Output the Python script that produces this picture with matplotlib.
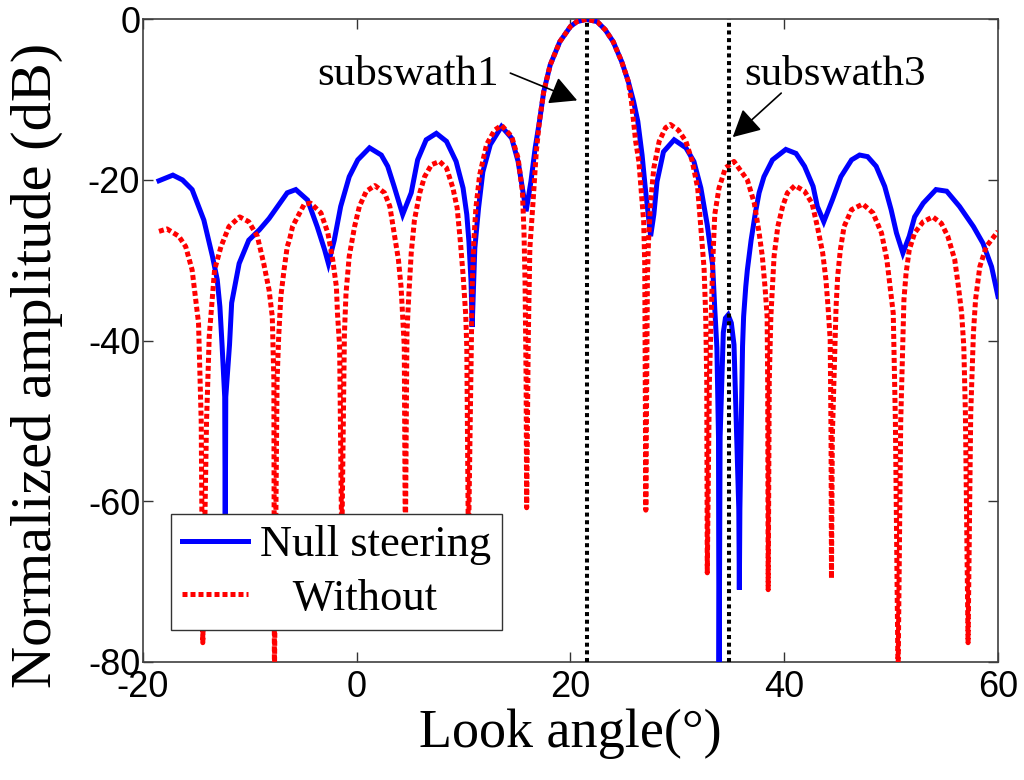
import matplotlib
matplotlib.use('Agg')
import matplotlib.pyplot as plt
from matplotlib import font_manager
from matplotlib.font_manager import FontProperties

# ---------------- data ----------------
null_x = [-18.5, -17.2, -16.3, -15.4, -14.3, -13.5, -13.05, -12.8, -12.6, -12.35, -12.3, -12.25,
          -11.9, -11.7, -11.0, -10.1, -9.1, -8.2, -6.5, -5.7, -4.6, -3.7, -3.0, -2.65, -2.1,
          -1.5, -0.7, 0.1, 1.2, 2.3, 2.9, 3.5, 4.3, 5.1, 5.7, 6.5, 7.45, 8.4, 9.3, 9.95, 10.3,
          10.5, 10.7, 10.8, 11.05, 11.4, 11.8, 12.5, 13.55, 14.5, 15.1, 15.5, 15.85, 16.3, 16.7,
          17.1, 17.5, 18.1, 19.0, 20.0, 20.6, 21.5, 22.5, 23.25, 24.0, 24.8, 25.4, 25.9, 26.3,
          26.7, 27.0, 27.5, 27.8, 28.1, 28.7, 29.7, 30.8, 31.55, 32.2, 32.8, 33.3, 33.5, 33.7,
          33.85, 33.9, 34.0, 34.3, 34.5, 34.75, 35.05, 35.3, 35.75, 35.8, 35.85, 36.1, 36.2,
          36.4, 36.55, 36.9, 37.3, 37.65, 38.1, 38.9, 40.15, 41.1, 41.9, 42.7, 43.1, 43.7, 44.5,
          45.3, 46.3, 47.05, 47.8, 48.6, 49.4, 50.0, 50.5, 51.1, 51.7, 52.2, 53.0, 54.2, 55.2,
          56.4, 57.7, 58.6, 59.4, 60.0]
null_db = [-20.1, -19.4, -20.0, -21.2, -25.0, -29.5, -32.4, -35.8, -40.5, -47.0, -64.0, -47.0,
           -40.5, -35.3, -30.4, -27.5, -26.2, -24.8, -21.6, -21.2, -22.5, -25.8, -28.7, -30.4, -27.5,
           -23.3, -19.6, -17.5, -16.0, -16.9, -18.3, -20.8, -24.3, -21.6, -17.5, -15.0, -14.2, -15.2,
           -17.7, -21.0, -24.3, -27.7, -32.7, -38.3, -28.5, -23.5, -19.0, -15.6, -13.35, -14.8, -17.7,
           -21.0, -23.9, -20.2, -16.0, -12.7, -9.0, -5.7, -2.8, -0.9, -0.3, 0.0, -0.3, -1.3, -2.8,
           -5.3, -7.7, -10.2, -12.7, -16.9, -21.0, -27.0, -24.3, -20.2, -16.5, -15.0, -16.0, -17.7,
           -21.0, -25.6, -30.6, -36.0, -40.9, -52.0, -85.0, -52.0, -39.0, -37.2, -36.8, -37.8, -40.5,
           -61.0, -71.0, -61.0, -40.7, -37.0, -33.3, -31.2, -27.5, -24.1, -21.6, -19.6, -17.5, -16.2,
           -16.7, -18.3, -20.8, -23.3, -25.2, -22.5, -19.6, -17.5, -16.9, -17.1, -18.3, -20.8, -23.7,
           -26.6, -29.1, -27.0, -24.6, -22.9, -21.2, -21.4, -23.3, -25.8, -27.9, -30.8, -34.5]

without_x = [-18.5, -17.75, -16.65, -16.0, -15.4, -15.1, -14.8, -14.55, -14.4, -14.05, -13.8, -13.5,
             -13.3, -12.7, -11.95, -10.95, -10.1, -9.3, -8.7, -8.2, -7.9, -7.75, -7.7, -7.45, -7.3,
             -7.1, -6.8, -6.5, -6.3, -6.0, -5.85, -4.9, -4.3, -3.35, -2.7, -2.25, -1.9, -1.8, -1.6,
             -1.4, -1.15, -1.0, -0.7, -0.2, 0.25, 0.9, 1.7, 2.6, 3.1, 3.5, 3.9, 4.15, 4.3, 4.45,
             4.55, 4.7, 4.85, 5.1, 5.4, 5.9, 6.35, 7.0, 7.75, 8.4, 9.0, 9.4, 9.7, 9.95, 10.2, 10.3,
             10.45, 10.8, 10.95, 11.15, 11.5, 12.15, 12.9, 13.55, 14.5, 15.1, 15.5, 15.65, 15.75,
             15.85, 15.9, 16.05, 16.2, 16.5, 16.8, 17.1, 17.5, 18.1, 19.0, 20.0, 20.6, 21.5, 22.5,
             23.25, 24.0, 24.8, 25.4, 25.7, 26.1, 26.4, 26.6, 26.85, 26.95, 27.05, 27.2, 27.3, 27.5,
             27.8, 28.3, 28.9, 29.35, 30.1, 30.8, 31.4, 31.9, 32.2, 32.5, 32.65, 32.75, 32.8, 33.0,
             33.3, 33.5, 33.9, 34.5, 35.3, 36.55, 37.2, 37.65, 37.95, 38.2, 38.4, 38.45, 38.5,
             38.6, 38.75, 38.9, 39.05, 39.4, 39.85, 40.3, 41.0, 41.9, 42.6, 43.1, 43.6, 43.9, 44.1,
             44.3, 44.38, 44.42, 44.5, 44.85, 45.0, 45.25, 45.6, 46.3, 47.35, 48.3, 49.1, 49.6,
             49.9, 50.2, 50.4, 50.65, 50.9, 51.2, 51.4, 51.7, 52.2, 53.0, 53.9, 54.7, 55.3, 55.95,
             56.3, 56.6, 56.8, 56.95, 57.2, 57.45, 57.7, 57.9, 58.3, 58.9, 60.0]
without_db = [-26.4, -26.1, -27.0, -28.3, -31.2, -34.5, -37.8, -50.0, -77.6, -50.0, -39.5, -34.5,
              -31.2, -28.3, -25.8, -24.6, -25.2, -27.0, -30.4, -33.7, -37.0, -45.0, -82.0, -45.0, -39.5,
              -34.5, -31.2, -28.3, -27.5, -25.8, -25.4, -23.0, -22.9, -24.1, -26.6, -29.9, -33.3, -36.6, -40.7,
              -66.0, -39.1, -34.1, -29.5, -25.8, -23.3, -21.4, -20.7, -21.6, -23.3, -26.6, -29.9, -33.3, -37.0,
              -40.7, -66.0, -39.1, -34.9, -29.1, -25.0, -21.6, -19.6, -18.1, -17.7, -18.5, -21.0, -23.5,
              -27.7, -31.8, -36.8, -40.9, -66.0, -33.5, -27.7, -23.5, -19.4, -15.6, -13.8, -13.2, -14.6,
              -17.3, -21.4, -26.4, -32.7, -45.0, -60.8, -40.0, -28.5, -22.7, -16.5, -12.7, -9.0, -5.7, -2.8,
              -0.9, -0.3, 0.0, -0.3, -1.3, -2.8, -5.3, -7.7, -10.2, -15.2, -17.7, -21.0, -25.2, -30.6,
              -61.1, -32.0, -27.7, -22.7, -18.5, -15.2, -13.5, -13.1, -13.8, -15.2, -17.7, -21.0, -26.0,
              -31.0, -36.8, -45.0, -68.9, -45.0, -30.6, -24.3, -21.0, -18.5, -17.7, -20.0, -22.9, -26.6,
              -29.5, -33.3, -37.0, -45.0, -71.0, -45.0, -37.0, -33.3, -29.5, -25.8, -23.3, -21.6, -20.7,
              -21.4, -22.9, -25.8, -29.1, -32.4, -35.8, -39.9, -52.0, -69.6, -52.0, -35.8, -32.0, -28.7,
              -25.8, -23.7, -23.0, -24.1, -26.6, -29.9, -33.3, -36.6, -50.0, -82.0, -50.0, -34.9, -31.6,
              -28.7, -26.6, -25.2, -24.6, -25.4, -27.0, -29.9, -33.3, -36.6, -40.7, -49.0, -77.6, -49.0,
              -39.1, -34.9, -30.8, -28.3, -26.4]

subswath_x = [21.5, 34.8]
subswath_labels = ['subswath1', 'subswath3']
label_pos = [(-3.66, -8.15), (36.25, -8.15)]
arrow_tail = [(14.37, -6.7), (39.72, -9.19)]
arrow_tip = [(20.63, -10.1), (35.18, -14.67)]

series_labels = ['Null steering', '   Without']
xticks = [-20, 0, 20, 40, 60]
yticks = [-80, -60, -40, -20, 0]

# ---------------- fonts ----------------
def has_font(name):
    try:
        font_manager.findfont(FontProperties(family=name), fallback_to_default=False)
        return True
    except Exception:
        return False

if has_font('Liberation Sans Narrow'):
    tick_family, tick_size = 'Liberation Sans Narrow', 32
else:
    tick_family, tick_size = 'Liberation Sans', 26
serif = ['Liberation Serif', 'DejaVu Serif']

plt.rcParams['font.family'] = [tick_family, 'DejaVu Sans']
plt.rcParams['axes.unicode_minus'] = False

# ---------------- figure ----------------
fig = plt.figure(figsize=(10.24, 7.8), dpi=100)
ax = fig.add_axes([0.1396, 0.1513, 0.835, 0.824])

l1, = ax.plot(null_x, null_db, color='#0000ff', lw=3.6, solid_joinstyle='miter',
              label=series_labels[0], zorder=3)
l2, = ax.plot(without_x, without_db, color='#ff0000', lw=3.6, linestyle=(0, (1.0, 0.6)),
              dash_capstyle='butt', label=series_labels[1], zorder=4)
ax.vlines(subswath_x, -80, 0, colors='black', lw=2.9, linestyles=[(0, (1.0, 0.9))], zorder=5)

for txt, pos, tail, tip in zip(subswath_labels, label_pos, arrow_tail, arrow_tip):
    ax.text(pos[0], pos[1], txt, fontsize=31, family=serif, ha='left', va='baseline', zorder=6)
    ax.annotate('', xy=tip, xytext=tail,
                arrowprops=dict(arrowstyle='-|>,head_length=0.42,head_width=0.22',
                                mutation_scale=40, color='black', lw=1.2,
                                shrinkA=0, shrinkB=0), zorder=6)

ax.set_xlim(-20, 60)
ax.set_ylim(-80, 0)
ax.set_xticks(xticks)
ax.set_yticks(yticks)
ax.tick_params(direction='in', length=7, width=1.0, top=True, right=True,
               labelsize=tick_size, colors='#333333', labelcolor='black')
ax.tick_params(axis='x', pad=6)
ax.tick_params(axis='y', pad=2)
for sp in ax.spines.values():
    sp.set_color('#404040')
    sp.set_linewidth(1.2)

ax.set_xlabel('Look angle(°)', fontsize=39, family=serif, labelpad=2)
ax.set_ylabel('Normalized amplitude (dB)', fontsize=42, family=serif)
ax.yaxis.set_label_coords(-0.0936, 0.462)

leg = ax.legend(handles=[l1, l2], loc='lower left', bbox_to_anchor=(0.0324, 0.0498),
                borderaxespad=0, prop=FontProperties(family=serif, size=32),
                handlelength=1.5, handletextpad=0.26, labelspacing=0.3, borderpad=0.25,
                frameon=True, fancybox=False, framealpha=1)
leg.get_frame().set_edgecolor('#333333')
leg.get_frame().set_linewidth(1.0)
leg.set_zorder(10)

fig.savefig('out.png', dpi=100)
